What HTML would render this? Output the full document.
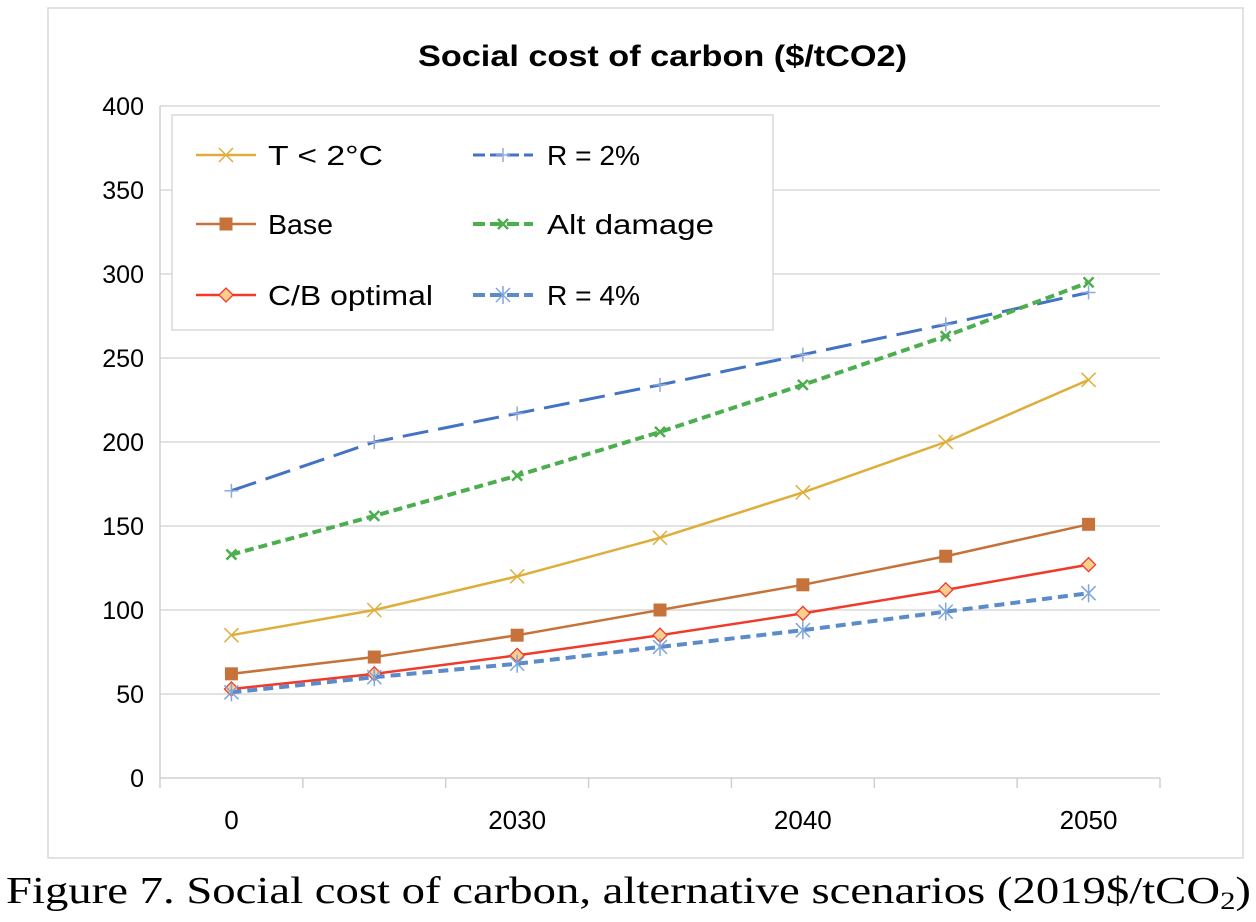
<!DOCTYPE html>
<html><head><meta charset="utf-8"><style>
html,body{margin:0;padding:0;background:#fff;}
body{width:1256px;height:922px;overflow:hidden;position:relative;}
svg{position:absolute;left:0;top:0;}
</style></head><body>
<svg id="chart" width="1256" height="922" xmlns="http://www.w3.org/2000/svg" font-family="'Liberation Sans', sans-serif">
<rect x="48" y="8" width="1195" height="850" fill="#fff" stroke="#d9d9d9" stroke-width="1.5"/>
<text x="418" y="66" textLength="489" lengthAdjust="spacingAndGlyphs" font-size="30" font-weight="bold" fill="#000">Social cost of carbon ($/tCO2)</text>
<g id="grid"></g>
<g id="axes"></g>
<g id="series"></g>
<g id="legend"></g>
<text x="6" y="903" textLength="1245" lengthAdjust="spacingAndGlyphs" font-size="38" font-family="'Liberation Serif', serif" fill="#000">Figure 7. Social cost of carbon, alternative scenarios (2019$/tCO<tspan font-size="25" dy="6">2</tspan><tspan dy="-6">)</tspan></text>
</svg>
<script>
const categories = ["0","","2030","","2040","","2050"];
const yTicks = [0,50,100,150,200,250,300,350,400];
const seriesNames = ["T < 2°C","R = 2%","Base","Alt damage","C/B optimal","R = 4%"];
const tLess2 = [85,100,120,143,170,200,237];
const r2 = [171,200,217,234,252,270,289];
const base = [62,72,85,100,115,132,151];
const altDamage = [133,156,180,206,234,263,295];
const cbOptimal = [53,62,73,85,98,112,127];
const r4 = [51,60,68,78,88,99,110];

const NS="http://www.w3.org/2000/svg";
const X0=160,X1=1160,Y0=778,Y1=106,YMAX=400;
const bw=(X1-X0)/categories.length;
const xs=i=>X0+bw*(i+0.5);
const ys=v=>Y0-(v/YMAX)*(Y0-Y1);
function mk(tag,attrs,parent){const e=document.createElementNS(NS,tag);for(const k in attrs)e.setAttribute(k,attrs[k]);parent.appendChild(e);return e;}
const grid=document.getElementById('grid'),axes=document.getElementById('axes'),ser=document.getElementById('series'),leg=document.getElementById('legend');
yTicks.forEach(t=>{
  if(t>0){const l=mk('line',{x1:X0,x2:X1,y1:ys(t),y2:ys(t),stroke:'#d9d9d9','stroke-width':1.5},grid);
  
  }
  const tx=mk('text',{x:144,y:ys(t)+9,'text-anchor':'end','font-size':25,fill:'#000'},axes);tx.textContent=t;
  
  
});
const ya=mk('line',{x1:X0,x2:X0,y1:Y1,y2:Y0,stroke:'#d0d0d0','stroke-width':1.5},axes);


const xa=mk('line',{x1:X0,x2:X1,y1:Y0,y2:Y0,stroke:'#d0d0d0','stroke-width':1.5},axes);


for(let i=0;i<=categories.length;i++){const tk=mk('line',{x1:X0+bw*i,x2:X0+bw*i,y1:Y0,y2:Y0+10,stroke:'#d0d0d0','stroke-width':1.5},axes);

}
categories.forEach((c,i)=>{if(!c)return;const t=mk('text',{x:xs(i),y:829,'text-anchor':'middle','font-size':26,fill:'#000'},axes);t.textContent=c;

});

function marker(g,type,x,y,col){
  if(type==='x'){mk('path',{d:`M${x-7},${y-7}L${x+7},${y+7}M${x-7},${y+7}L${x+7},${y-7}`,stroke:col,'stroke-width':1.5,fill:'none'},g);}
  else if(type==='plus'){mk('path',{d:`M${x-7},${y}L${x+7},${y}M${x},${y-7}L${x},${y+7}`,stroke:col,'stroke-width':1.5,fill:'none'},g);}
  else if(type==='sq'){mk('rect',{x:x-6.5,y:y-6.5,width:13,height:13,fill:col},g);}
  else if(type==='greenx'){mk('path',{d:`M${x-5},${y-5}L${x+5},${y+5}M${x-5},${y+5}L${x+5},${y-5}`,stroke:col,'stroke-width':2.5,fill:'none'},g);}
  else if(type==='dia'){mk('path',{d:`M${x},${y-7}L${x+7},${y}L${x},${y+7}L${x-7},${y}Z`,fill:'#f8cf8f',stroke:'#f03a2a','stroke-width':1.3},g);}
  else if(type==='star'){mk('path',{d:`M${x-7},${y-7}L${x+7},${y+7}M${x-7},${y+7}L${x+7},${y-7}M${x},${y-9}L${x},${y+9}`,stroke:'#7ea6dc','stroke-width':1.5,fill:'none'},g);}
}
const defs=[
 {data:tLess2,col:'#dfae3a',dash:'',w:2.5,m:'x',name:'t-less-2c'},
 {data:r2,col:'#4472c4',dash:'26,10',w:3,m:'plus',mc:'#8fa9de',name:'r-2pct'},
 {data:base,col:'#c5733b',dash:'',w:2.5,m:'sq',name:'base'},
 {data:altDamage,col:'#4cae4f',dash:'9,5',w:4,m:'greenx',name:'alt-damage'},
 {data:cbOptimal,col:'#f03a2a',dash:'',w:2.5,m:'dia',name:'cb-optimal'},
 {data:r4,col:'#5b8bc8',dash:'10,6',w:4,m:'star',name:'r-4pct'}
];
defs.forEach(s=>{
  const g=mk('g',{},ser);
  
  
  const pts=s.data.map((v,i)=>xs(i)+','+ys(v)).join(' ');
  const pl=mk('polyline',{points:pts,fill:'none',stroke:s.col,'stroke-width':s.w,'stroke-dasharray':s.dash,'stroke-linejoin':'round'},g);
  
  
  s.data.forEach((v,i)=>marker(g,s.m,xs(i),ys(v),s.mc||s.col));
});
const lb=mk('rect',{x:172,y:115,width:601,height:215,fill:'#fff',stroke:'#d9d9d9','stroke-width':1.5},leg);


const lpos=[[196,155],[473,155],[196,224],[473,224],[196,295],[473,295]];
const lwidths=[115,93,65,167,165,93];
defs.forEach((s,i)=>{
  const [lx,ly]=lpos[i];
  const g=mk('g',{},leg);
  
  
  mk('line',{x1:lx,x2:lx+60,y1:ly,y2:ly,stroke:s.col,'stroke-width':s.w,'stroke-dasharray':s.dash?'12,5':''},g);
  marker(g,s.m,lx+30,ly,s.mc||s.col);
  const t=mk('text',{x:lx+(i%2?74:72),y:ly+10,'font-size':28,fill:'#000',textLength:lwidths[i],lengthAdjust:'spacingAndGlyphs'},g);t.textContent=seriesNames[i];
});
</script>
</body></html>
